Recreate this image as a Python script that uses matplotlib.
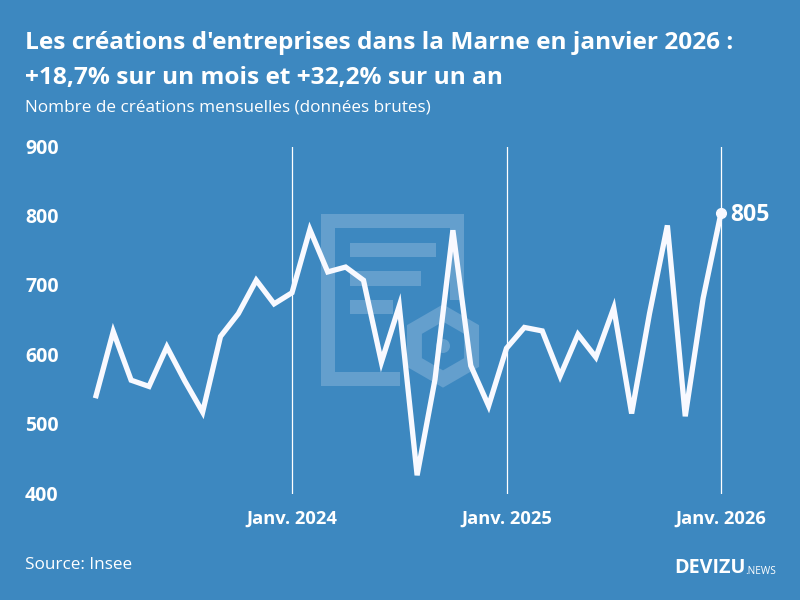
import numpy as np
import matplotlib
matplotlib.use("Agg")
import matplotlib.pyplot as plt
from matplotlib.patches import Rectangle, Polygon, Circle

BG = "#3d88c0"
WM = "#649fcd"
LINE = "#f8f9ff"

months = np.arange(36)  # index 0 = Feb 2023, last = Jan 2026
values = [538, 634, 564, 555, 612, 563, 518, 627, 660, 708, 674, 690,
          781, 720, 727, 708, 590, 671, 427, 565, 780, 585, 527, 610,
          640, 635, 570, 630, 597, 668, 516, 660, 787, 512, 682, 805]
year_positions = [11, 23, 35]
year_labels = ["Janv. 2024", "Janv. 2025", "Janv. 2026"]
y_ticks = [400, 500, 600, 700, 800, 900]
title_lines = ["Les créations d'entreprises dans la Marne en janvier 2026 :",
               "+18,7% sur un mois et +32,2% sur un an"]
subtitle = "Nombre de créations mensuelles (données brutes)"
source = "Source: Insee"

plt.rcParams["font.family"] = ["Open Sans", "DejaVu Sans"]
fig = plt.figure(figsize=(8, 6), dpi=100, facecolor=BG)

# watermark layer in pixel coordinates
bgax = fig.add_axes([0, 0, 1, 1], zorder=0)
bgax.set_xlim(0, 800); bgax.set_ylim(600, 0); bgax.axis("off")
for (x0, y0, x1, y1) in [(321, 214, 335, 386), (321, 214, 464, 228), (450, 214, 464, 300),
                         (321, 372, 400, 386), (350, 243, 436, 257), (350, 271, 421, 286),
                         (350, 300, 393, 314)]:
    bgax.add_patch(Rectangle((x0, y0), x1 - x0, y1 - y0, fc=WM, ec="none"))
cx, cy, r = 443, 346, 33
ang = np.deg2rad(np.arange(30, 390, 60))
bgax.add_patch(Polygon(np.c_[cx + r * np.cos(ang), cy + r * np.sin(ang)], closed=True,
                       fc="none", ec=WM, lw=10.8, joinstyle="miter"))
bgax.add_patch(Circle((cx, cy), 7, fc=WM, ec="none"))

# chart axes
L, R, T, B = 60, 780, 147, 494
ax = fig.add_axes([L / 800, 1 - B / 600, (R - L) / 800, (B - T) / 600], zorder=1)
ax.patch.set_alpha(0)
px_per_month = (721 - 292) / 24
ax.set_xlim(11 - (292 - L) / px_per_month, 11 + (R - 292) / px_per_month)
ax.set_ylim(400, 900)
for s in ax.spines.values():
    s.set_visible(False)
ax.set_yticks(y_ticks)
ax.set_xticks(year_positions)
ax.set_xticklabels(year_labels)
ax.tick_params(length=0)
ax.tick_params(axis="x", pad=11)
for t in ax.get_xticklabels():
    t.set(color="white", fontweight="bold", fontsize=13.2)
ax.set_yticklabels([])
for v in y_ticks:
    ax.annotate(str(v), xy=(0, v), xycoords=("figure fraction", "data"),
                xytext=(25 * 0.72, -1.2), textcoords="offset points",
                color="white", fontweight="bold", fontsize=14, va="center", ha="left")
for p in year_positions:
    ax.axvline(p, color="white", lw=0.9, zorder=1)
ax.plot(months, values, color=LINE, lw=3.8, solid_joinstyle="miter", solid_capstyle="butt",
        zorder=3, clip_on=False)
ax.plot(months[-1], values[-1], "o", ms=7, color=LINE, zorder=4, clip_on=False)
ax.annotate(str(values[-1]), xy=(months[-1], values[-1]), xytext=(7, -1.5), textcoords="offset points",
            color="white", fontweight="bold", fontsize=16.6, va="center", ha="left")

# texts
fig.text(25 / 800, 1 - 43 / 600, title_lines[0], color="white", fontweight="bold", fontsize=17.6, va="center")
fig.text(25 / 800, 1 - 78 / 600, title_lines[1], color="white", fontweight="bold", fontsize=17.6, va="center")
fig.text(25 / 800, 1 - 107 / 600, subtitle, color="white", fontsize=12.3, va="center")
fig.text(25 / 800, 1 - 565 / 600, source, color="white", fontsize=12.3, va="center")
fig.text(674 / 800, 1 - 568 / 600, "DEVIZU", color="white", fontweight="bold", fontsize=14.2, va="center")
fig.text(745 / 800, 1 - 571 / 600, ".NEWS", color="white", fontsize=7.3, va="center")

fig.savefig("out.png", dpi=100, facecolor=BG)
